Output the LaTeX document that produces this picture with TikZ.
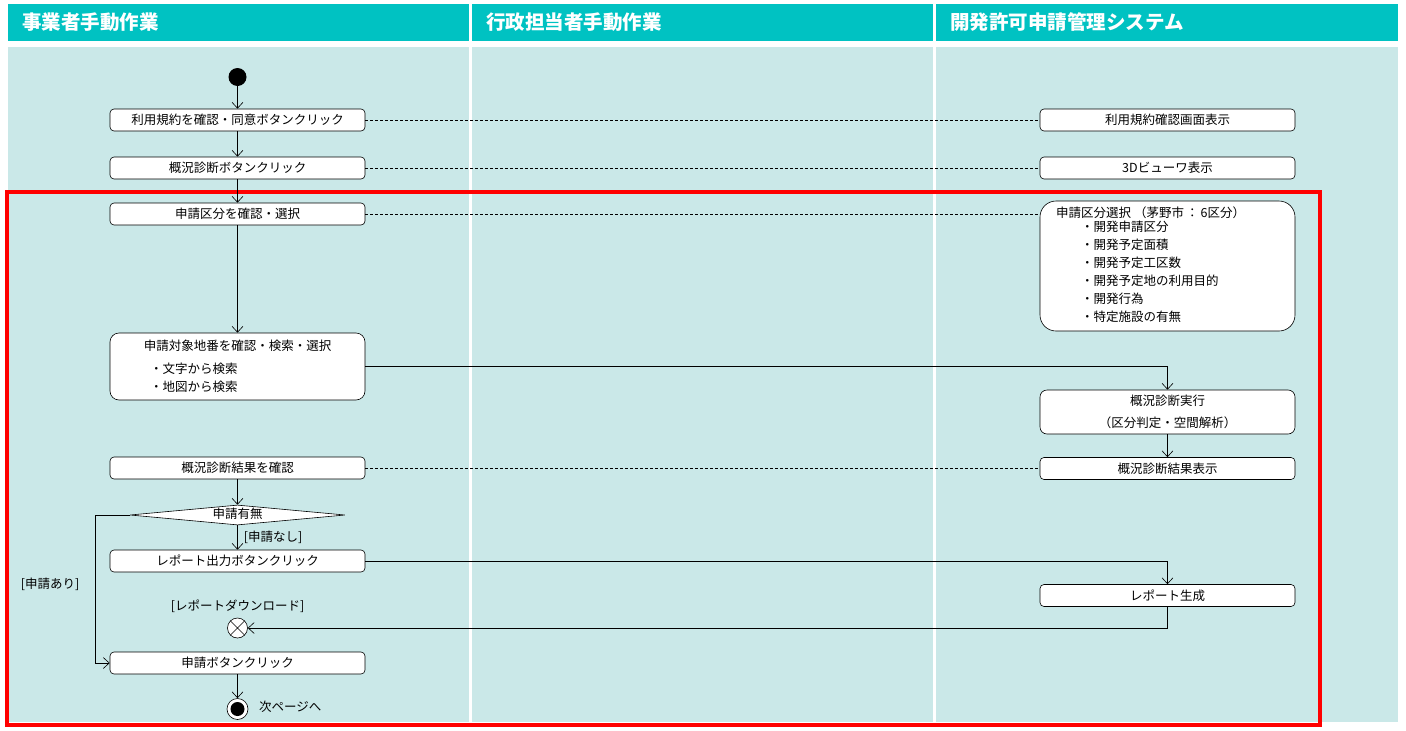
\documentclass[tikz,border=0pt]{standalone}
\usepackage{fontspec}
\setmainfont{Noto Sans CJK JP}
\usetikzlibrary{arrows.meta,shapes.geometric}
\definecolor{hdr}{HTML}{00C2C2}
\definecolor{lanebg}{HTML}{CAE8E8}
\definecolor{redframe}{HTML}{FF0000}
\begin{document}
\begin{tikzpicture}[x=1pt,y=-1pt,
  act/.style={draw=black, fill=white, rounded corners=4pt, line width=0.6pt,
    minimum width=255pt, minimum height=22pt, inner sep=0pt, font=\fontsize{12.5}{14}\selectfont},
  arr/.style={-{Straight Barb[length=6pt,width=11pt]}, line width=0.6pt},
  dline/.style={dashed, line width=0.6pt, dash pattern=on 3pt off 2pt},
  hdrtext/.style={anchor=west, text=white, font=\bfseries\fontsize{19.5}{21}\selectfont, inner sep=0pt},
  lbl/.style={font=\fontsize{12.5}{14}\selectfont, inner sep=0pt},
]
\useasboundingbox (0,0) rectangle (1406,731);
\fill[white] (0,0) rectangle (1406,731);
% lanes
\fill[hdr] (8,4) rectangle (469,41);
\fill[hdr] (472,4) rectangle (933,41);
\fill[hdr] (936,4) rectangle (1398,41);
\fill[lanebg] (8,47) rectangle (469,722);
\fill[lanebg] (472,47) rectangle (933,722);
\fill[lanebg] (936,47) rectangle (1398,722);
\node[hdrtext] (h1) at (22,22) {事業者手動作業};
\node[hdrtext] (h2) at (486,22) {行政担当者手動作業};
\node[hdrtext] (h3) at (950,22) {開発許可申請管理システム};
% red frame
\draw[redframe, line width=4pt] (7,192) rectangle (1320,725);

% lane 1
\node[circle, fill=black, minimum size=18pt, inner sep=0pt] (s) at (237.5,77) {};
\node[act] (n1) at (237.5,120) {利用規約を確認・同意ボタンクリック};
\node[act] (n2) at (237.5,168) {概況診断ボタンクリック};
\node[act] (n3) at (237.5,214) {申請区分を確認・選択};
\node[act, minimum height=67pt, rounded corners=9pt] (n4) at (237.5,366.5) {};
\node[lbl] (n4t) at (237.5,346) {申請対象地番を確認・検索・選択};
\node[lbl, anchor=west] (n4a) at (150,369) {・文字から検索};
\node[lbl, anchor=west] (n4b) at (150,387) {・地図から検索};
\node[act] (n5) at (237.5,468) {概況診断結果を確認};
\node[diamond, draw=black, fill=white, line width=0.6pt, aspect=10.75, inner sep=0pt,
  minimum width=215pt, minimum height=20pt] (d) at (237.5,515) {};
\node[lbl] (dt) at (237.5,514) {申請有無};
\node[act] (n6) at (237.5,561) {レポート出力ボタンクリック};
\node[circle, draw=black, fill=white, line width=0.6pt, minimum size=20pt, inner sep=0pt] (ff) at (237.5,628) {};
\draw[line width=0.6pt] (ff.45) -- (ff.225) (ff.135) -- (ff.315);
\node[act] (n7) at (237.5,663) {申請ボタンクリック};
\node[circle, draw=black, fill=white, line width=0.6pt, minimum size=21pt, inner sep=0pt] (e) at (237.5,709) {};
\node[circle, fill=black, minimum size=14pt, inner sep=0pt] (ei) at (237.5,709) {};

% lane 3
\node[act] (m1) at (1167.5,120) {利用規約確認画面表示};
\node[act] (m2) at (1167.5,168) {3Dビューワ表示};
\node[act, minimum height=130pt, rounded corners=16pt] (m3) at (1167.5,266) {};
\node[lbl, anchor=west] (m3t) at (1056,213) {申請区分選択\hspace{3pt}（茅野市\hspace{2pt}：\hspace{2pt}6区分）};
\node[lbl, anchor=north west, align=left, font=\fontsize{12.5}{18}\selectfont] (m3b) at (1081,221)
  {・開発申請区分\\・開発予定面積\\・開発予定工区数\\・開発予定地の利用目的\\・開発行為\\・特定施設の有無};
\node[act, minimum height=44pt, rounded corners=7pt, align=center, font=\fontsize{12.5}{22}\selectfont] (m4) at (1167.5,412)
  {概況診断実行\\（区分判定・空間解析）};
\node[act] (m5) at (1167.5,468.5) {概況診断結果表示};
\node[act] (m6) at (1167.5,595.5) {レポート生成};

% connectors
\draw[arr] (s) -- (n1);
\draw[arr] (n1) -- (n2);
\draw[arr] (n2) -- (n3);
\draw[arr] (n3) -- (n4);
\draw[dline] (n1.east) -- (m1.west);
\draw[dline] (n2.east) -- (m2.west);
\draw[dline] (n3.east) -- (m3.west |- n3.east);
\draw[dline] (n5.east) -- (m5.west |- n5.east);
\draw[arr] (n4.east) -| (m4.north);
\draw[arr] (m4) -- (m5);
\draw[arr] (n5) -- (d);
\draw[arr] (d) -- (n6) node[lbl, pos=0.5, right=6pt] {[申請なし]};
\coordinate (lc) at (95,515);
\draw[arr] (d.west) -- (lc) |- (n7.west);
\node[lbl] (yes) at (50,584) {[申請あり]};
\draw[arr] (n6.east) -| (m6.north);
\draw[arr] (m6.south) |- (ff.east);
\node[lbl] (dl) at (237.5,606) {[レポートダウンロード]};
\draw[arr] (n7) -- (e);
\node[lbl, anchor=west] (np) at (259,707) {次ページへ};
\end{tikzpicture}
\end{document}
